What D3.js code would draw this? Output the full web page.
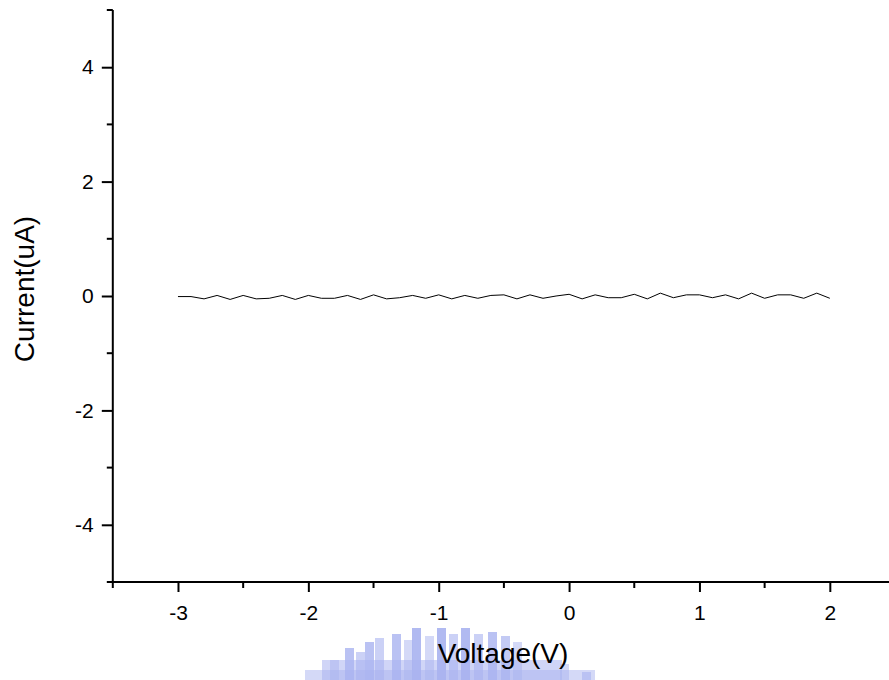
<!DOCTYPE html>
<html>
<head>
  <meta charset="utf-8">
  <title>Current vs Voltage</title>
  <script src="https://cdn.jsdelivr.net/npm/d3@7"></script>
  <style>
    body { margin: 0; background: #fff; }
    text { font-family: "Liberation Sans", Arial, sans-serif; fill: #000; }
  </style>
</head>
<body>
  <div id="chart"></div>
  <script>
    const voltage = [-3.0, -2.9, -2.8, -2.7, -2.6, -2.5, -2.4, -2.3, -2.2, -2.1,
                     -2.0, -1.9, -1.8, -1.7, -1.6, -1.5, -1.4, -1.3, -1.2, -1.1,
                     -1.0, -0.9, -0.8, -0.7, -0.6, -0.5, -0.4, -0.3, -0.2, -0.1,
                      0.0,  0.1,  0.2,  0.3,  0.4,  0.5,  0.6,  0.7,  0.8,  0.9,
                      1.0,  1.1,  1.2,  1.3,  1.4,  1.5,  1.6,  1.7,  1.8,  1.9, 2.0]
    const current = [-0.01, -0.01, -0.05, 0.01, -0.06, 0.01, -0.05, -0.04, 0.01, -0.06,
                      0.01, -0.04, -0.04, 0.01, -0.06, 0.02, -0.05, -0.03, 0.01, -0.04,
                      0.02, -0.05, 0.01, -0.04, 0.01, 0.02, -0.05, 0.02, -0.04, 0.00,
                      0.03, -0.05, 0.02, -0.03, -0.03, 0.03, -0.05, 0.05, -0.03, 0.02,
                      0.02, -0.03, 0.02, -0.05, 0.05, -0.04, 0.02, 0.02, -0.04, 0.05, -0.04]

    const xMajor = [-3, -2, -1, 0, 1, 2]
    const xMinor = [-3.5, -2.5, -1.5, -0.5, 0.5, 1.5, 2.5]
    const yMajor = [-4, -2, 0, 2, 4]
    const yMinor = [-5, -3, -1, 1, 3, 5]

    const width = 889
    const height = 680

    const svg = d3.select("#chart")
      .append("svg")
      .attr("width", width)
      .attr("height", height)

    const x = d3.scaleLinear().domain([-3.5, 2.5]).range([112.8, 895])
    const y = d3.scaleLinear().domain([-5, 5]).range([582, 10])

    // faint logo watermark behind the x title
    const wmBars = [[330, 660, 0.5], [345, 648, 0.8], [356, 652, 0.6], [365, 642, 0.8], [375, 638, 0.6],
                    [392, 634, 0.8], [404, 640, 0.5], [412, 628, 0.9], [425, 636, 0.5], [437, 628, 0.9],
                    [449, 634, 0.6], [461, 628, 0.9], [474, 634, 0.6], [488, 632, 0.8], [501, 636, 0.7],
                    [513, 642, 0.5], [560, 664, 0.5]]
    const wm = svg.append("g").attr("fill", "#a9b3f0")
    wm.append("rect").attr("x", 322).attr("y", 660).attr("width", 240).attr("height", 20).attr("opacity", 0.55)
    wm.append("rect").attr("x", 305).attr("y", 670).attr("width", 290).attr("height", 10).attr("opacity", 0.5)
    wm.selectAll(".bar")
      .data(wmBars)
      .enter()
      .append("rect")
      .attr("x", d => d[0])
      .attr("y", d => d[1])
      .attr("width", 9)
      .attr("height", d => 680 - d[1])
      .attr("opacity", d => d[2])
    wm.append("rect").attr("x", 582).attr("y", 672).attr("width", 9).attr("height", 8).attr("opacity", 0.6)

    const fmt = d => String(d)

    // y axis
    const yAxis = svg.append("g")
      .attr("transform", `translate(${x(-3.5)},0)`)
      .call(d3.axisLeft(y).tickValues(yMajor).tickSize(11).tickPadding(8).tickFormat(fmt))
    yAxis.select(".domain").remove()
    yAxis.append("g").selectAll("line")
      .data(yMinor)
      .enter()
      .append("line")
      .attr("x1", -6).attr("x2", 0)
      .attr("y1", d => y(d)).attr("y2", d => y(d))
      .attr("stroke", "#000").attr("stroke-width", 2)
    yAxis.append("line")
      .attr("x1", 0).attr("x2", 0)
      .attr("y1", y(5)).attr("y2", y(-5) + 1)
      .attr("stroke", "#000").attr("stroke-width", 2)

    // x axis
    const xAxis = svg.append("g")
      .attr("transform", `translate(0,${y(-5)})`)
      .call(d3.axisBottom(x).tickValues(xMajor).tickSize(10).tickPadding(13).tickFormat(fmt))
    xAxis.select(".domain").remove()
    xAxis.append("g").selectAll("line")
      .data(xMinor)
      .enter()
      .append("line")
      .attr("x1", d => x(d)).attr("x2", d => x(d))
      .attr("y1", 0).attr("y2", 6)
      .attr("stroke", "#000").attr("stroke-width", 2)
    xAxis.append("line")
      .attr("x1", x(-3.5) - 1).attr("x2", width)
      .attr("y1", 0).attr("y2", 0)
      .attr("stroke", "#000").attr("stroke-width", 2)

    svg.selectAll(".tick line").attr("stroke", "#000").attr("stroke-width", 2)
    svg.selectAll(".tick text")
      .style("font-family", "'Liberation Sans', Arial, sans-serif")
      .style("font-size", "21px")
      .attr("fill", "#000")

    // data line
    const points = voltage.map((v, i) => [v, current[i]])
    svg.append("path")
      .datum(points)
      .attr("fill", "none")
      .attr("stroke", "#000")
      .attr("stroke-width", 1)
      .attr("d", d3.line().x(d => x(d[0])).y(d => y(d[1])))

    // axis titles
    svg.append("text")
      .attr("x", 503)
      .attr("y", 663)
      .attr("text-anchor", "middle")
      .style("font-size", "28px")
      .text("Voltage(V)")

    svg.append("text")
      .attr("transform", "translate(34,289) rotate(-90)")
      .attr("text-anchor", "middle")
      .style("font-size", "28px")
      .text("Current(uA)")
  </script>
</body>
</html>
